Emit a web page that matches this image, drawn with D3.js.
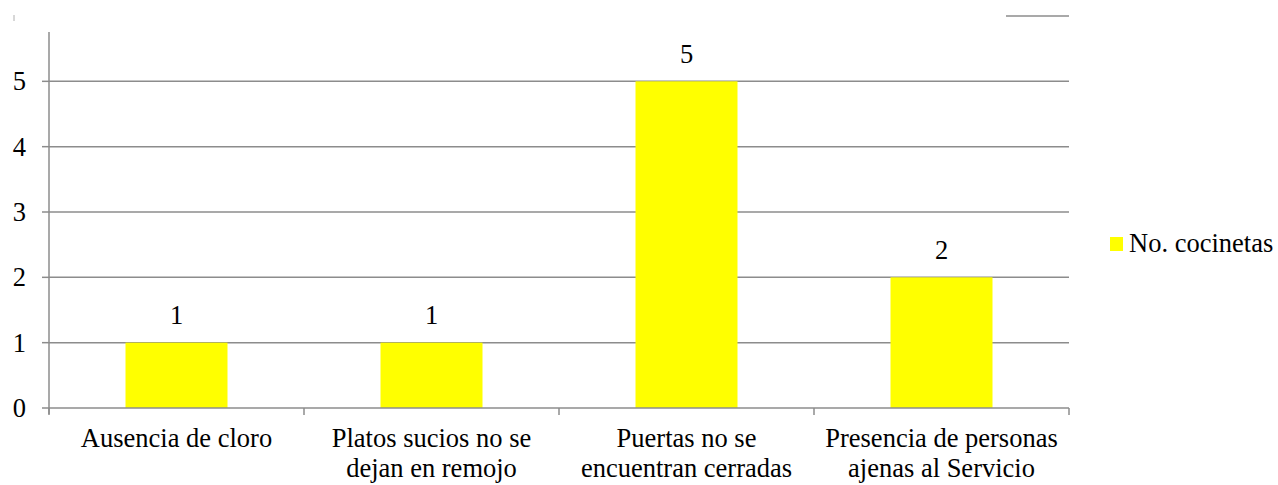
<!DOCTYPE html>
<html>
<head>
<meta charset="utf-8">
<script src="https://cdn.jsdelivr.net/npm/d3@7"></script>
<style>
  body { margin: 0; background: #fff; }
</style>
</head>
<body>
<div class="chart"></div>
<script>
const categories = [
  ["Ausencia de cloro"],
  ["Platos sucios no se", "dejan en remojo"],
  ["Puertas no se", "encuentran cerradas"],
  ["Presencia de personas", "ajenas al Servicio"]
];
const values = [1, 1, 5, 2];
const yTicks = [0, 1, 2, 3, 4, 5];
const seriesName = "No. cocinetas";

const svgWidth = 1278, svgHeight = 485;
const left = 49, right = 1069, bottom = 408;
const font = "\"Liberation Serif\"";
const fontSize = 26.5;

const svg = d3.select(".chart").append("svg")
  .attr("width", svgWidth)
  .attr("height", svgHeight);

// scales
const x = d3.scaleBand()
  .domain(d3.range(categories.length))
  .range([left, right])
  .paddingInner(0.6)
  .paddingOuter(0.3);

const y = d3.scaleLinear()
  .domain([0, 6])
  .range([bottom, 16]);

const gridColor = "#8c8c8c";

// gridlines
svg.append("g").selectAll("line")
  .data(yTicks.slice(1))
  .enter().append("line")
  .attr("x1", left).attr("x2", right)
  .attr("y1", d => y(d)).attr("y2", d => y(d))
  .attr("stroke", gridColor)
  .attr("stroke-width", 1.5);

// leftover bits at the top (cropped chart)
svg.append("line")
  .attr("x1", 1006).attr("x2", right)
  .attr("y1", y(6)).attr("y2", y(6))
  .attr("stroke", gridColor)
  .attr("stroke-width", 1.5);
svg.append("line")
  .attr("x1", 14).attr("x2", 14)
  .attr("y1", 15).attr("y2", 21)
  .attr("stroke", "#b0b0b0")
  .attr("stroke-width", 1);

// bars
svg.append("g").selectAll("rect")
  .data(values)
  .enter().append("rect")
  .attr("x", (d, i) => x(i))
  .attr("y", d => y(d))
  .attr("width", x.bandwidth())
  .attr("height", d => y(0) - y(d))
  .attr("fill", "#ffff00");

// value labels
svg.append("g").selectAll("text")
  .data(values)
  .enter().append("text")
  .attr("x", (d, i) => x(i) + x.bandwidth() / 2)
  .attr("y", d => y(d) - 18.5)
  .attr("text-anchor", "middle")
  .attr("font-size", fontSize)
  .style("font-family", font)
  .text(d => d);

// y axis
svg.append("line")
  .attr("x1", left).attr("x2", left)
  .attr("y1", 32).attr("y2", bottom + 6)
  .attr("stroke", gridColor).attr("stroke-width", 1.5);

svg.append("g").selectAll("line")
  .data(yTicks)
  .enter().append("line")
  .attr("x1", left - 7).attr("x2", left)
  .attr("y1", d => y(d)).attr("y2", d => y(d))
  .attr("stroke", gridColor).attr("stroke-width", 1.5);

svg.append("g").selectAll("text")
  .data(yTicks)
  .enter().append("text")
  .attr("x", 26)
  .attr("y", d => y(d) + 9)
  .attr("text-anchor", "end")
  .attr("font-size", fontSize)
  .style("font-family", font)
  .text(d => d);

// x axis
svg.append("line")
  .attr("x1", left).attr("x2", right)
  .attr("y1", bottom).attr("y2", bottom)
  .attr("stroke", gridColor).attr("stroke-width", 1.5);

const step = x.step();
svg.append("g").selectAll("line")
  .data(d3.range(categories.length + 1))
  .enter().append("line")
  .attr("x1", i => left + i * step).attr("x2", i => left + i * step)
  .attr("y1", bottom).attr("y2", bottom + 7)
  .attr("stroke", gridColor).attr("stroke-width", 1.5);

// category labels
const catText = svg.append("g").selectAll("text")
  .data(categories)
  .enter().append("text")
  .attr("text-anchor", "middle")
  .attr("font-size", fontSize)
  .style("font-family", font);

catText.selectAll("tspan")
  .data((d, i) => d.map(line => ({ line, i })))
  .enter().append("tspan")
  .attr("x", d => x(d.i) + x.bandwidth() / 2)
  .attr("y", (d, j) => 447 + j * 29.5)
  .text(d => d.line);

// legend
svg.append("rect")
  .attr("x", 1110).attr("y", 237)
  .attr("width", 13).attr("height", 14)
  .attr("fill", "#ffff00");

svg.append("text")
  .attr("x", 1129).attr("y", 252)
  .attr("font-size", fontSize)
  .style("font-family", font)
  .text(seriesName);
</script>
</body>
</html>
